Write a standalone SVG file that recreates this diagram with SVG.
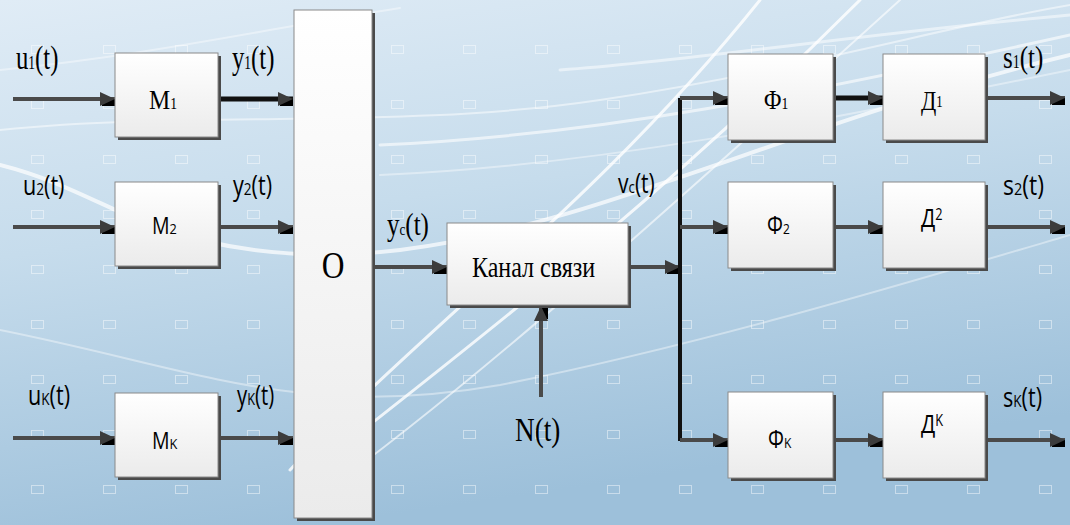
<svg xmlns="http://www.w3.org/2000/svg" width="1070" height="525" viewBox="0 0 1070 525">
<defs>
<linearGradient id="bg" x1="0" y1="0" x2="0.3" y2="1">
<stop offset="0" stop-color="#e0ecf6"/>
<stop offset="0.45" stop-color="#c6dcec"/>
<stop offset="1" stop-color="#9dc0da"/>
</linearGradient>
<linearGradient id="box" x1="0" y1="0" x2="0" y2="1">
<stop offset="0" stop-color="#ffffff"/>
<stop offset="1" stop-color="#ebebeb"/>
</linearGradient>
<pattern id="grid" patternUnits="userSpaceOnUse" x="31" y="45" width="72" height="55">
<rect x="0.5" y="0.5" width="12" height="8" fill="none" stroke="#ffffff" stroke-opacity="0.45"/>
</pattern>
<marker id="ah" markerUnits="userSpaceOnUse" markerWidth="20" markerHeight="20" viewBox="0 0 20 20" refX="18" refY="10" orient="auto">
<rect x="5" y="10" width="13" height="7" fill="#000"/>
<path d="M3,3 L18,10 L3,17 Z" fill="#3c3c3c"/>
</marker>
<style>
.bx{fill:url(#box);stroke:#8a8a8a;stroke-width:1}
.sh{fill:#4a4a4a}
.ln{fill:none;stroke:#4a4a4a;stroke-width:4;marker-end:url(#ah)}
.thk{fill:none;stroke:#111;stroke-width:5;marker-end:url(#ah)}
.bus{fill:none;stroke:#111;stroke-width:4}
.sw{fill:none;stroke:#ffffff;stroke-linecap:round}
.sf{font-family:"Liberation Serif","Times New Roman",serif;fill:#000}
.ss{font-family:"Open Sans","Liberation Sans",sans-serif;fill:#000}
</style>
</defs>
<rect width="1070" height="525" fill="url(#bg)"/>
<g id="background">
<rect width="1070" height="525" fill="url(#grid)"/>
<path class="sw" d="M0,165 C60,180 100,205 150,225 C220,250 300,262 400,250 C600,225 800,120 1070,55" stroke-width="4" opacity="0.7"/>
<path class="sw" d="M0,130 C200,110 400,130 600,100 C800,70 950,25 1070,5" stroke-width="2" opacity="0.5"/>
<path class="sw" d="M290,470 C420,330 600,200 760,0" stroke-width="3" opacity="0.8"/>
<path class="sw" d="M300,480 C450,360 640,220 860,0" stroke-width="3" stroke="#88b0cf" opacity="0.8"/>
<path class="sw" d="M320,495 C480,380 690,190 900,0" stroke-width="2" opacity="0.6"/>
<path class="sw" d="M560,70 C700,60 850,35 1070,15" stroke-width="3" opacity="0.5"/>
<path class="sw" d="M380,145 C600,135 800,95 1070,35" stroke-width="3" stroke="#8fb5d2" opacity="0.6"/>
<path class="sw" d="M380,175 C600,165 800,125 1070,70" stroke-width="2" opacity="0.4"/>
<path class="sw" d="M0,330 C200,370 300,420 500,385 C700,345 900,285 1070,235" stroke-width="2" opacity="0.4"/>
<path class="sw" d="M0,70 C150,55 260,30 400,8" stroke-width="2" opacity="0.4"/>
</g>
<g id="connectors">
<path class="ln" d="M13,99 H115"/>
<path class="thk" d="M218,99 H293"/>
<path class="ln" d="M13,227 H115"/>
<path class="ln" d="M218,227 H293"/>
<path class="ln" d="M13,438 H115"/>
<path class="ln" d="M218,438 H293"/>
<path class="ln" d="M372,267 H447"/>
<path class="ln" d="M541,397 V306"/>
<path class="ln" d="M628,267 H680"/>
<path class="bus" d="M680,98 V441"/>
<path class="ln" d="M680,98 H728"/>
<path class="ln" d="M680,227 H728"/>
<path class="ln" d="M680,440 H728"/>
<path class="thk" d="M833,98 H883"/>
<path class="ln" d="M833,227 H883"/>
<path class="ln" d="M833,440 H883"/>
<path class="ln" d="M985,98 H1065"/>
<path class="ln" d="M985,227 H1065"/>
<path class="ln" d="M985,440 H1065"/>
</g>
<g id="M1">
<rect class="sh" x="118" y="56" width="103" height="84"/>
<rect class="bx" x="115" y="53" width="103" height="84"/>
<text class="sf" font-size="28" transform="translate(149,109) scale(0.85,1)">M<tspan font-size="16">1</tspan></text>
</g>
<g id="M2">
<rect class="sh" x="118" y="185" width="103" height="84"/>
<rect class="bx" x="115" y="182" width="103" height="84"/>
<text class="ss" font-size="23" transform="translate(152,234) scale(0.85,1)">M<tspan font-size="15">2</tspan></text>
</g>
<g id="Mk">
<rect class="sh" x="118" y="396" width="103" height="84"/>
<rect class="bx" x="115" y="393" width="103" height="84"/>
<text class="ss" font-size="23" transform="translate(152,449) scale(0.85,1)">M<tspan font-size="15">K</tspan></text>
</g>
<g id="O">
<rect class="sh" x="297" y="13" width="78" height="508"/>
<rect class="bx" x="294" y="10" width="78" height="508"/>
<text class="sf" font-size="37" text-anchor="middle" transform="translate(333,278) scale(0.85,1)">O</text>
</g>
<g id="Kanal">
<rect class="sh" x="450" y="226" width="181" height="82"/>
<rect class="bx" x="447" y="223" width="181" height="82"/>
<text class="sf" font-size="30" transform="translate(472,277) scale(0.8,1)">Канал связи</text>
</g>
<g id="F1">
<rect class="sh" x="731" y="57" width="105" height="86"/>
<rect class="bx" x="728" y="54" width="105" height="86"/>
<text class="sf" font-size="28" transform="translate(764,109) scale(0.85,1)">Φ<tspan font-size="16">1</tspan></text>
</g>
<g id="D1">
<rect class="sh" x="886" y="57" width="102" height="86"/>
<rect class="bx" x="883" y="54" width="102" height="86"/>
<text class="sf" font-size="28" transform="translate(921,110) scale(0.8,1)">Д<tspan font-size="16" dy="-3">1</tspan></text>
</g>
<g id="F2">
<rect class="sh" x="731" y="185" width="105" height="86"/>
<rect class="bx" x="728" y="182" width="105" height="86"/>
<text class="ss" font-size="25" transform="translate(767,234) scale(0.8,1)">Φ<tspan font-size="15">2</tspan></text>
</g>
<g id="D2">
<rect class="sh" x="886" y="185" width="102" height="86"/>
<rect class="bx" x="883" y="182" width="102" height="86"/>
<text class="ss" font-size="26" transform="translate(921,227) scale(0.8,1)">Д<tspan font-size="16" dy="-7">2</tspan></text>
</g>
<g id="Fk">
<rect class="sh" x="731" y="395" width="105" height="86"/>
<rect class="bx" x="728" y="392" width="105" height="86"/>
<text class="ss" font-size="25" transform="translate(768,448) scale(0.8,1)">Φ<tspan font-size="15">K</tspan></text>
</g>
<g id="Dk">
<rect class="sh" x="886" y="395" width="102" height="86"/>
<rect class="bx" x="883" y="392" width="102" height="86"/>
<text class="ss" font-size="26" transform="translate(921,433) scale(0.8,1)">Д<tspan font-size="16" dy="-7">K</tspan></text>
</g>
<g id="labels">
<text class="sf" font-size="33" transform="translate(16,69) scale(0.75,1)">u<tspan font-size="18">1</tspan>(t)</text>
<text class="sf" font-size="33" transform="translate(232,69) scale(0.75,1)">y<tspan font-size="18">1</tspan>(t)</text>
<text class="ss" font-size="27" transform="translate(23,195) scale(0.8,1)">u<tspan font-size="17">2</tspan>(t)</text>
<text class="ss" font-size="27" transform="translate(233,195) scale(0.8,1)">y<tspan font-size="17">2</tspan>(t)</text>
<text class="ss" font-size="27" transform="translate(28,405) scale(0.8,1)">u<tspan font-size="17">K</tspan>(t)</text>
<text class="ss" font-size="27" transform="translate(237,405) scale(0.75,1)">y<tspan font-size="17">K</tspan>(t)</text>
<text class="sf" font-size="32" transform="translate(387,235) scale(0.78,1)">y<tspan font-size="17">c</tspan>(t)</text>
<text class="ss" font-size="27" transform="translate(618,193) scale(0.78,1)">v<tspan font-size="17">c</tspan>(t)</text>
<text class="sf" font-size="34" transform="translate(515,441) scale(0.8,1)">N(t)</text>
<text class="sf" font-size="32" transform="translate(1003,68) scale(0.78,1)">s<tspan font-size="18">1</tspan>(t)</text>
<text class="ss" font-size="27" transform="translate(1003,195) scale(0.85,1)">s<tspan font-size="17">2</tspan>(t)</text>
<text class="ss" font-size="27" transform="translate(1003,407) scale(0.8,1)">s<tspan font-size="17">K</tspan>(t)</text>
</g>
</svg>
